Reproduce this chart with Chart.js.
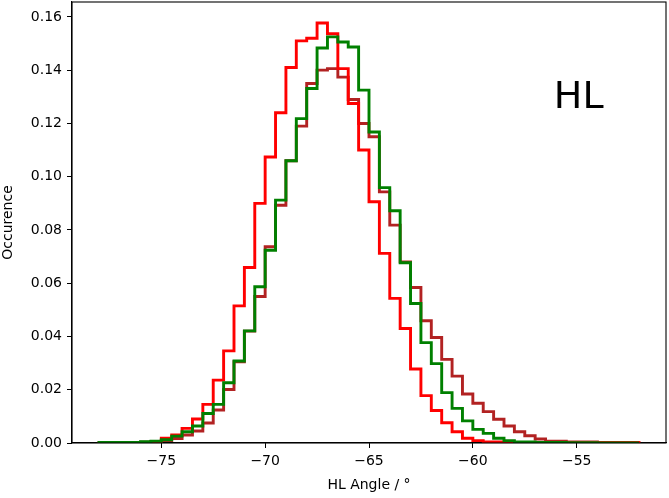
<!DOCTYPE html>
<html>
<head>
<meta charset="utf-8">
<script src="https://cdn.jsdelivr.net/npm/chart.js@4/dist/chart.umd.min.js"></script>
<style>
  html, body { margin: 0; padding: 0; background: #fff; }
  #wrap { width: 669px; height: 498px; }
</style>
</head>
<body>
<div id="wrap"><canvas id="histChart"></canvas></div>
<script>
// Histogram bins: 0.5 degree wide, starting at -78
const binStart = -78;
const binWidth = 0.5;

const redCounts = [
    0, 0, 0, 0.0001, 0.0002, 0.0006, 0.0018, 0.003, 0.0055, 0.009,
    0.0145, 0.0236, 0.0346, 0.0515, 0.0659, 0.090, 0.1074, 0.124, 0.141, 0.151,
    0.152, 0.1577, 0.1537, 0.1406, 0.1275, 0.110, 0.0906, 0.0712, 0.0543, 0.043,
    0.0278, 0.0178, 0.0122, 0.0076, 0.0042, 0.0018, 0.0009, 0.0004, 0.0004, 0.0002,
    0.0001, 0.0001, 0.0001, 0.0001, 0.0001, 0.0001, 0.0001, 0.0001, 0.0002, 0.0002,
    0.0002, 0.0002
];
const brownCounts = [
    0.0001, 0.0001, 0.0001, 0.0002, 0.0003, 0.0004, 0.0009, 0.0017, 0.003, 0.0045,
    0.0075, 0.0124, 0.0201, 0.0305, 0.042, 0.055, 0.0737, 0.0893, 0.106, 0.119,
    0.135, 0.140, 0.1406, 0.1374, 0.129, 0.120, 0.115, 0.0943, 0.0818, 0.068,
    0.0584, 0.0459, 0.0396, 0.0314, 0.0251, 0.0184, 0.0149, 0.0118, 0.0089, 0.0064,
    0.0042, 0.0027, 0.0015, 0.0007, 0.0007, 0.0004, 0.0004, 0.0004, 0.0001, 0,
    0, 0
];
const greenCounts = [
    0.0002, 0.0002, 0.0002, 0.0002, 0.0005, 0.0007, 0.0012, 0.0026, 0.0042, 0.0064,
    0.0111, 0.0145, 0.0226, 0.0308, 0.0421, 0.0587, 0.0724, 0.0912, 0.106, 0.1218,
    0.1331, 0.1483, 0.1525, 0.1506, 0.1487, 0.1325, 0.1168, 0.0959, 0.0872, 0.0677,
    0.0524, 0.0377, 0.0298, 0.0189, 0.013, 0.0083, 0.0051, 0.0036, 0.0018, 0.0009,
    0.0004, 0.0004, 0.0002, 0.0002, 0.0002, 0.0001, 0.0001, 0.0001, 0, 0,
    0, 0
];

const xTicks = [-75, -70, -65, -60, -55];
const yTicks = [0, 0.02, 0.04, 0.06, 0.08, 0.10, 0.12, 0.14, 0.16];

// turn bin heights into step outline points (closed down to zero at both ends)
function stepPoints(counts) {
    const pts = [{ x: binStart, y: 0 }];
    counts.forEach((c, i) => pts.push({ x: binStart + i * binWidth, y: c }));
    const end = binStart + counts.length * binWidth;
    pts.push({ x: end, y: counts[counts.length - 1] });
    pts.push({ x: end, y: 0 });
    return pts;
}

const FONT = 'DejaVu Sans';

// frame + "HL" label
const framePlugin = {
    id: 'frame',
    afterDraw(chart) {
        const { ctx, chartArea: a, scales } = chart;
        ctx.save();
        ctx.strokeStyle = '#000';
        ctx.lineWidth = 1.1;
        ctx.strokeRect(a.left, a.top, a.right - a.left, a.bottom - a.top);
        ctx.fillStyle = '#000';
        ctx.font = '38px ' + FONT;
        ctx.textAlign = 'left';
        ctx.textBaseline = 'alphabetic';
        ctx.fillText('HL', scales.x.getPixelForValue(-56.1), scales.y.getPixelForValue(0.1257));
        ctx.restore();
    }
};

const lineStyle = {
    stepped: 'before',
    borderWidth: 2.9,
    pointRadius: 0,
    fill: false
};

const ctx = document.getElementById('histChart').getContext('2d');
new Chart(ctx, {
    type: 'line',
    data: {
        datasets: [{
            label: 'green',
            data: stepPoints(greenCounts),
            borderColor: '#008000',
            order: 0,
            ...lineStyle
        }, {
            label: 'red',
            data: stepPoints(redCounts),
            borderColor: '#ff0000',
            order: 1,
            ...lineStyle
        }, {
            label: 'brown',
            data: stepPoints(brownCounts),
            borderColor: '#b22222',
            order: 2,
            ...lineStyle
        }]
    },
    plugins: [framePlugin],
    options: {
        responsive: true,
        maintainAspectRatio: false,
        animation: false,
        layout: { padding: { top: 2, right: 3, left: 0, bottom: 0 } },
        plugins: {
            legend: { display: false },
            tooltip: { enabled: false }
        },
        scales: {
            x: {
                type: 'linear',
                min: -79.3,
                max: -50.7,
                afterBuildTicks: s => { s.ticks = xTicks.map(v => ({ value: v })); },
                afterFit: s => { s.height = 55; s.paddingLeft = 0; s.paddingRight = 0; },
                grid: { drawOnChartArea: false, drawTicks: true, tickLength: 5, color: '#000' },
                border: { display: true, color: '#000', width: 1.1 },
                ticks: {
                    color: '#000',
                    padding: 5,
                    maxRotation: 0,
                    font: { family: FONT, size: 14 },
                    callback: v => (v < 0 ? '\u2212' + Math.abs(v) : String(v))
                },
                title: {
                    display: true,
                    text: 'HL Angle / °',
                    color: '#000',
                    padding: { top: 0, bottom: 4 },
                    font: { family: FONT, size: 14 }
                }
            },
            y: {
                type: 'linear',
                min: 0,
                max: 0.1656,
                afterBuildTicks: s => { s.ticks = yTicks.map(v => ({ value: v })); },
                afterFit: s => { s.width = 72; s.paddingTop = 0; s.paddingBottom = 0; },
                grid: { drawOnChartArea: false, drawTicks: true, tickLength: 5, color: '#000' },
                border: { display: true, color: '#000', width: 1.1 },
                ticks: {
                    color: '#000',
                    padding: 5,
                    font: { family: FONT, size: 14 },
                    callback: v => v.toFixed(2)
                },
                title: {
                    display: true,
                    text: 'Occurence',
                    color: '#000',
                    padding: { top: 0, bottom: 0 },
                    font: { family: FONT, size: 14 }
                }
            }
        }
    }
});
</script>
</body>
</html>
